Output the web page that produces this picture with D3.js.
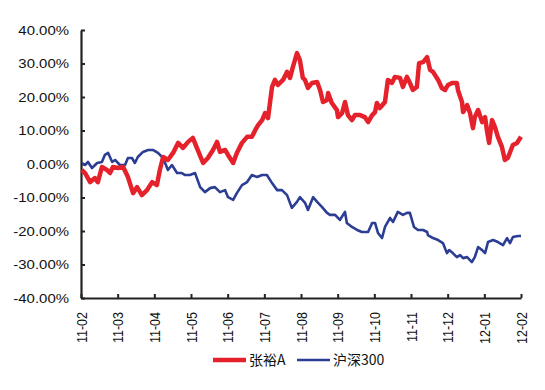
<!DOCTYPE html>
<html>
<head>
<meta charset="utf-8">
<script src="https://cdn.jsdelivr.net/npm/d3@7/dist/d3.min.js"></script>
<style>
  html, body { margin: 0; padding: 0; background: #fff; }
  svg { display: block; }
</style>
</head>
<body>
<svg id="chart" width="545" height="390"></svg>
<script>
// ---- data ----
const monthLabels = ["11-02","11-03","11-04","11-05","11-06","11-07","11-08","11-09","11-10","11-11","11-12","12-01","12-02"];
const yTicks = [-40,-30,-20,-10,0,10,20,30,40];
const seriesNames = ["张裕A","沪深300"];
// [month offset from 11-02, cumulative return %]
const zhangyu = [
[0.02,-1.8],[0.11,-2.7],[0.25,-5.4],[0.38,-4.2],[0.46,-5.4],[0.57,-0.9],[0.71,-1.8],[0.79,-2.7],[0.87,-0.9],[1.01,-1.2],
[1.15,-0.9],[1.28,-3.9],[1.42,-8.7],[1.53,-6.9],[1.66,-9.3],[1.80,-7.8],[1.94,-5.4],[2.07,-6.3],[2.15,-1.8],[2.24,2.1],
[2.37,1.2],[2.51,3.3],[2.65,6.3],[2.78,4.8],[2.92,6.6],[3.05,7.8],[3.16,4.8],[3.33,0.3],[3.46,1.8],[3.60,4.2],
[3.71,6.6],[3.79,3.6],[3.93,4.2],[4.01,2.7],[4.15,0.3],[4.25,3.3],[4.39,6.3],[4.53,8.1],[4.66,8.1],[4.75,10.1],
[4.83,11.6],[4.94,13.1],[5.02,15.2],[5.10,13.7],[5.21,23.0],[5.29,25.1],[5.37,23.6],[5.51,25.1],[5.62,27.5],[5.70,25.7],
[5.78,29.0],[5.89,33.1],[5.97,31.0],[6.05,25.7],[6.11,25.1],[6.19,22.7],[6.30,24.2],[6.44,24.5],[6.52,22.1],[6.60,18.5],
[6.71,19.1],[6.74,21.2],[6.84,18.2],[6.98,16.1],[7.01,14.0],[7.12,15.2],[7.20,18.5],[7.28,14.6],[7.39,13.1],[7.47,14.6],
[7.61,14.6],[7.74,14.0],[7.83,12.5],[7.94,14.6],[8.02,15.5],[8.07,18.2],[8.15,16.7],[8.29,18.5],[8.37,25.1],[8.48,24.2],
[8.56,26.0],[8.70,25.7],[8.78,23.0],[8.89,26.0],[8.97,24.2],[9.05,22.1],[9.16,23.0],[9.22,30.1],[9.33,30.4],[9.44,31.9],
[9.52,28.1],[9.60,27.5],[9.74,25.1],[9.84,22.7],[9.93,22.1],[10.01,23.6],[10.12,24.2],[10.25,24.2],[10.28,22.1],[10.39,18.5],
[10.42,15.5],[10.53,17.6],[10.61,15.2],[10.69,10.7],[10.74,14.0],[10.83,16.1],[10.94,12.5],[11.02,14.0],[11.07,10.1],[11.13,6.3],
[11.21,13.1],[11.29,11.0],[11.37,8.1],[11.48,5.1],[11.56,1.2],[11.64,1.8],[11.78,5.7],[11.89,6.3],[12.0,8.1]
];
const hs300 = [
[0.03,0.3],[0.11,-0.3],[0.19,0.6],[0.30,-1.2],[0.44,0.3],[0.57,0.6],[0.65,2.7],[0.74,3.3],[0.85,0.6],[0.93,1.2],
[1.06,-0.3],[1.20,-0.3],[1.28,1.8],[1.39,1.8],[1.47,0.3],[1.55,2.1],[1.69,3.6],[1.83,4.2],[1.96,4.2],[2.10,3.3],
[2.24,1.8],[2.37,-1.8],[2.48,-0.3],[2.62,-2.7],[2.75,-2.7],[2.84,-3.3],[2.97,-3.3],[3.11,-2.7],[3.25,-6.9],[3.38,-8.4],
[3.52,-7.2],[3.65,-6.9],[3.79,-8.4],[3.93,-7.8],[4.01,-9.9],[4.15,-10.7],[4.25,-8.7],[4.39,-6.3],[4.53,-5.4],[4.66,-3.3],
[4.80,-3.9],[4.94,-3.3],[5.07,-3.3],[5.21,-5.7],[5.35,-7.8],[5.48,-7.8],[5.62,-9.3],[5.75,-13.1],[5.89,-11.3],[5.97,-9.9],
[6.11,-11.6],[6.19,-13.7],[6.33,-9.9],[6.44,-11.3],[6.57,-12.8],[6.71,-14.6],[6.79,-15.2],[6.93,-15.2],[7.06,-16.7],[7.20,-14.3],
[7.25,-17.6],[7.39,-18.8],[7.53,-19.7],[7.66,-20.3],[7.83,-20.3],[7.94,-17.6],[8.02,-17.6],[8.10,-20.6],[8.21,-22.1],[8.29,-18.8],
[8.43,-16.1],[8.51,-17.3],[8.64,-14.3],[8.78,-15.2],[8.89,-14.6],[8.97,-14.6],[9.08,-18.8],[9.19,-19.7],[9.33,-19.7],[9.44,-20.3],
[9.46,-21.2],[9.60,-22.1],[9.74,-22.7],[9.87,-23.6],[9.98,-26.6],[10.04,-25.7],[10.14,-26.6],[10.25,-27.8],[10.34,-27.2],[10.42,-28.1],
[10.53,-27.8],[10.66,-29.3],[10.74,-27.8],[10.83,-24.8],[10.94,-25.7],[11.02,-26.6],[11.10,-23.3],[11.24,-22.7],[11.37,-23.3],[11.51,-24.2],
[11.62,-22.1],[11.70,-23.6],[11.78,-21.8],[11.92,-21.5],[12.0,-21.5]
];
const colors = ["#e5212b", "#2c3e93"];

// ---- chart ----
const svg = d3.select("#chart");
const plotLeft = 81, plotRight = 521, plotTop = 30, plotBottom = 298;
const x = d3.scaleLinear().domain([0, monthLabels.length - 1]).range([plotLeft, plotRight]);
const y = d3.scaleLinear().domain([-40, 40]).range([plotBottom, plotTop]);
const axisColor = "#222";
const stretch = 1.15;

// y axis
const gy = svg.append("g").attr("transform", `translate(${plotLeft},0)`)
  .call(d3.axisLeft(y).tickValues(yTicks).tickSize(-4).tickSizeOuter(0).tickPadding(12)
    .tickFormat(d => d.toFixed(2) + "%"));
gy.select(".domain").attr("stroke", axisColor).attr("stroke-width", 2.2);
gy.selectAll(".tick line").attr("stroke", axisColor).attr("stroke-width", 2);
gy.selectAll(".tick text")
  .attr("x", null)
  .attr("transform", `translate(-12,0) scale(${stretch},1)`)
  .attr("fill", "#111")
  .style("font-family", "'Liberation Sans', Arial, sans-serif")
  .style("font-size", "13px");

// x axis
const gx = svg.append("g").attr("transform", `translate(0,${plotBottom})`)
  .call(d3.axisBottom(x).tickValues(d3.range(monthLabels.length)).tickSize(-4).tickSizeOuter(0)
    .tickFormat(i => monthLabels[i]));
gx.select(".domain").attr("stroke", axisColor).attr("stroke-width", 2.2);
gx.selectAll(".tick line").attr("stroke", axisColor).attr("stroke-width", 2);
gx.selectAll(".tick text")
  .attr("y", null).attr("dy", "0.35em")
  .attr("text-anchor", "end")
  .attr("transform", `translate(0,14) scale(${stretch},1) rotate(-90)`)
  .attr("fill", "#111")
  .style("font-family", "'Liberation Sans', Arial, sans-serif")
  .style("font-size", "12.5px");

// lines
const line = d3.line().x(d => x(d[0])).y(d => y(d[1])).curve(d3.curveLinear);
svg.append("path").datum(hs300).attr("d", line)
  .attr("fill", "none").attr("stroke", colors[1]).attr("stroke-width", 2.6).attr("stroke-linejoin", "round");
svg.append("path").datum(zhangyu).attr("d", line)
  .attr("fill", "none").attr("stroke", colors[0]).attr("stroke-width", 4.5).attr("stroke-linejoin", "round");

// legend
const legendY = 360;
const legend = svg.append("g");
const items = [
  {name: seriesNames[0], color: colors[0], w: 4.5, x0: 213},
  {name: seriesNames[1], color: colors[1], w: 2.6, x0: 297}
];
items.forEach(it => {
  legend.append("line").attr("x1", it.x0).attr("x2", it.x0 + 33)
    .attr("y1", legendY).attr("y2", legendY)
    .attr("stroke", it.color).attr("stroke-width", it.w);
  legend.append("text").attr("x", it.x0 + 36).attr("y", legendY).attr("dy", "0.36em")
    .attr("fill", "#111")
    .style("font-family", "'Noto Sans CJK SC', sans-serif")
    .style("font-size", "14px")
    .text(it.name);
});
</script>
</body>
</html>
